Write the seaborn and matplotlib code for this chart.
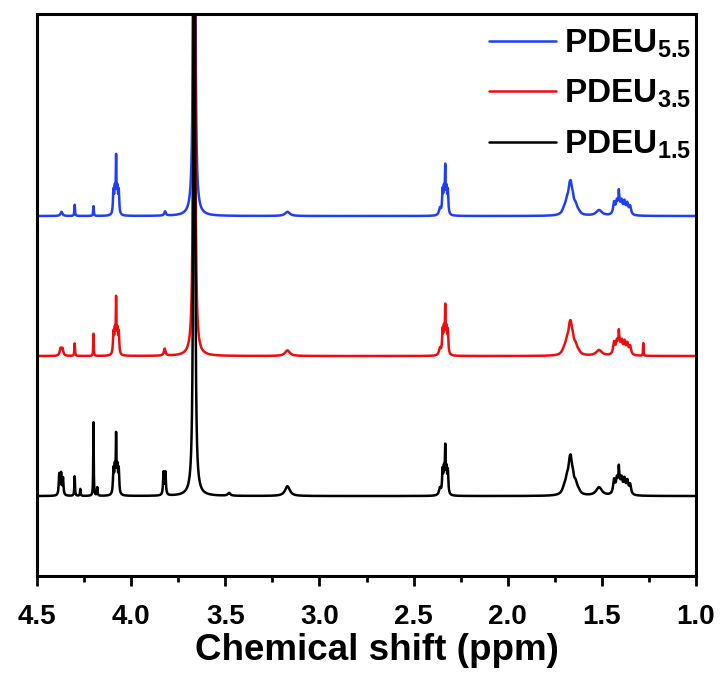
import numpy as np
import pandas as pd
import matplotlib
matplotlib.use("Agg")
import matplotlib.pyplot as plt
from matplotlib.ticker import MultipleLocator
import seaborn as sns

# ---- data: peak lists (ppm, height in trace units, HWHM ppm)
samples = ["PDEU$_{5.5}$", "PDEU$_{3.5}$", "PDEU$_{1.5}$"]
colors = ["#1f3ff5", "#f00c0c", "#000000"]
offsets = [2.0, 1.0, 0.0]

# PDEU 1.5 (black)
c15 = [4.382, 4.372, 4.362, 4.300, 4.270, 4.200, 4.180,
       4.094, 4.087, 4.080, 4.073, 4.066, 4.080,
       3.828, 3.818, 3.665, 3.480, 3.170,
       2.360, 2.346, 2.339, 2.332, 2.325, 2.318, 2.332,
       1.700, 1.685, 1.672, 1.665, 1.655, 1.640, 1.625, 1.515,
       1.435, 1.420, 1.408, 1.395, 1.380, 1.365, 1.350, 1.410]
h15 = [0.15, 0.15, 0.12, 0.14, 0.05, 0.53, 0.06,
       0.17, 0.17, 0.17, 0.17, 0.17, 0.22,
       0.16, 0.16, 14.0, 0.02, 0.07,
       0.05, 0.16, 0.16, 0.16, 0.16, 0.16, 0.15,
       0.04, 0.09, 0.14, 0.14, 0.10, 0.065, 0.025, 0.06,
       0.10, 0.10, 0.10, 0.10, 0.10, 0.09, 0.07, 0.08]
w15 = [0.003, 0.003, 0.003, 0.002, 0.002, 0.0015, 0.002,
       0.003, 0.003, 0.003, 0.003, 0.003, 0.0015,
       0.003, 0.003, 0.0025, 0.008, 0.015,
       0.006, 0.003, 0.003, 0.003, 0.003, 0.003, 0.0015,
       0.012, 0.010, 0.008, 0.007, 0.008, 0.010, 0.012, 0.018,
       0.006, 0.006, 0.006, 0.006, 0.006, 0.006, 0.006, 0.0015]

# PDEU 3.5 (red)
c35 = [4.375, 4.365, 4.300, 4.200,
       4.094, 4.087, 4.080, 4.073, 4.066, 4.080,
       3.822, 3.665, 3.170,
       2.360, 2.346, 2.339, 2.332, 2.325, 2.318, 2.332,
       1.700, 1.685, 1.672, 1.665, 1.655, 1.640, 1.625, 1.515,
       1.435, 1.420, 1.408, 1.395, 1.380, 1.365, 1.350, 1.410, 1.280]
h35 = [0.05, 0.05, 0.09, 0.16,
       0.15, 0.15, 0.15, 0.15, 0.15, 0.22,
       0.05, 14.0, 0.04,
       0.05, 0.16, 0.16, 0.16, 0.16, 0.16, 0.15,
       0.035, 0.08, 0.12, 0.12, 0.09, 0.055, 0.02, 0.04,
       0.085, 0.085, 0.085, 0.085, 0.085, 0.075, 0.06, 0.07, 0.09]
w35 = [0.005, 0.005, 0.002, 0.0015,
       0.003, 0.003, 0.003, 0.003, 0.003, 0.0015,
       0.005, 0.0025, 0.015,
       0.006, 0.003, 0.003, 0.003, 0.003, 0.003, 0.0015,
       0.012, 0.010, 0.008, 0.007, 0.008, 0.010, 0.012, 0.018,
       0.006, 0.006, 0.006, 0.006, 0.006, 0.006, 0.006, 0.0015, 0.0015]

# PDEU 5.5 (blue)
c55 = [4.370, 4.300, 4.200,
       4.094, 4.087, 4.080, 4.073, 4.066, 4.080,
       3.820, 3.665, 3.170,
       2.360, 2.346, 2.339, 2.332, 2.325, 2.318, 2.332,
       1.700, 1.685, 1.672, 1.665, 1.655, 1.640, 1.625, 1.515,
       1.435, 1.420, 1.408, 1.395, 1.380, 1.365, 1.350, 1.410]
h55 = [0.03, 0.08, 0.07,
       0.16, 0.16, 0.16, 0.16, 0.16, 0.22,
       0.03, 14.0, 0.03,
       0.05, 0.16, 0.16, 0.16, 0.16, 0.16, 0.15,
       0.035, 0.08, 0.12, 0.12, 0.09, 0.055, 0.02, 0.04,
       0.085, 0.085, 0.085, 0.085, 0.085, 0.075, 0.06, 0.07]
w55 = [0.006, 0.002, 0.002,
       0.003, 0.003, 0.003, 0.003, 0.003, 0.0015,
       0.005, 0.0025, 0.015,
       0.006, 0.003, 0.003, 0.003, 0.003, 0.003, 0.0015,
       0.012, 0.010, 0.008, 0.007, 0.008, 0.010, 0.012, 0.018,
       0.006, 0.006, 0.006, 0.006, 0.006, 0.006, 0.006, 0.0015]

xticks = [4.5, 4.0, 3.5, 3.0, 2.5, 2.0, 1.5, 1.0]
peaks = [(c55, h55, w55), (c35, h35, w35), (c15, h15, w15)]

# ---- build spectra from peak lists
ppm = np.linspace(4.5, 1.0, 12000)
frames = []
for name, off, (c, h, w) in zip(samples, offsets, peaks):
    y = np.zeros_like(ppm)
    for ci, hi, wi in zip(c, h, w):
        y += hi * wi**2 / (wi**2 + (ppm - ci) ** 2)
    frames.append(pd.DataFrame({"ppm": ppm, "intensity": y + off, "sample": name}))
df = pd.concat(frames, ignore_index=True)

sns.set_style("ticks")
plt.rcParams["font.family"] = ["Liberation Sans", "DejaVu Sans"]
plt.rcParams["font.weight"] = "bold"
plt.rcParams["mathtext.fontset"] = "custom"
plt.rcParams["mathtext.rm"] = "Liberation Sans:bold"
plt.rcParams["mathtext.bf"] = "Liberation Sans:bold"
plt.rcParams["mathtext.it"] = "Liberation Sans:bold"
plt.rcParams["mathtext.default"] = "bf"
for k in ["text.color", "axes.labelcolor", "xtick.color", "ytick.color", "axes.edgecolor"]:
    plt.rcParams[k] = "black"

fig = plt.figure(figsize=(7.23, 6.84), dpi=100)
ax = fig.add_axes([37 / 723, 1 - 576 / 684, 659 / 723, 562 / 684])

sns.lineplot(data=df, x="ppm", y="intensity", hue="sample", hue_order=samples,
             palette=colors, estimator=None, sort=False, linewidth=1.8, ax=ax)

ax.set_xlim(4.5, 1.0)
ax.set_ylim(-0.571, 3.443)
ax.set_yticks([])
ax.set_ylabel("")
ax.set_xticks(xticks)
ax.set_xticklabels([f"{t:.1f}" for t in xticks])
ax.xaxis.set_minor_locator(MultipleLocator(0.25))
ax.tick_params(axis="x", which="major", direction="out", length=7, width=2,
               labelsize=20, pad=13)
ax.tick_params(axis="x", which="minor", direction="out", length=4, width=2)
for lab in ax.get_xticklabels():
    lab.set_fontweight("bold")
ax.set_xlabel("Chemical shift (ppm)", fontsize=26.5, fontweight="bold", labelpad=2,
              x=0.5 + 10 / 659)
for s in ax.spines.values():
    s.set_linewidth(2.2)
    s.set_visible(True)

leg = ax.legend(loc="upper right", bbox_to_anchor=(1.013, 1.0), frameon=False,
                fontsize=24, handlelength=2.0, handletextpad=0.25,
                labelspacing=0.55, borderaxespad=0.0)
for t in leg.get_texts():
    t.set_fontweight("bold")

fig.savefig("out.png", dpi=100)
